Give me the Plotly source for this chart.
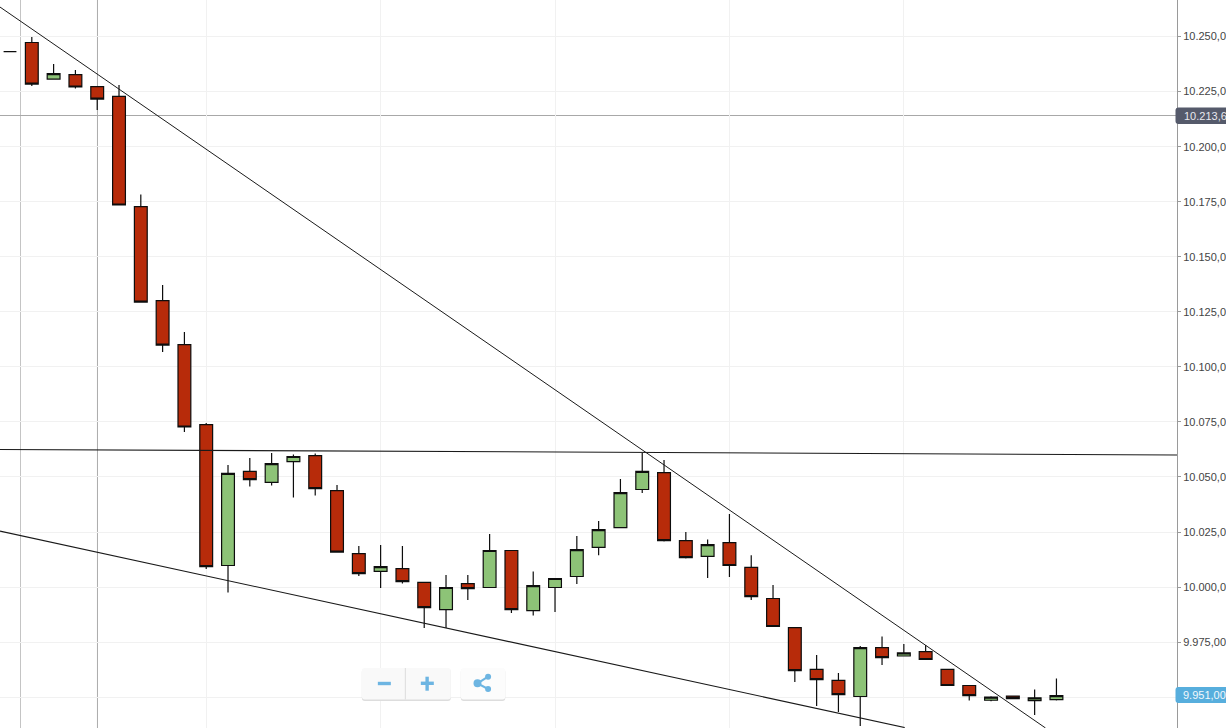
import plotly.graph_objects as go

candle_index = list(range(49))
open_values = [10243.2,10247.3,10230.7,10232.7,10227.3,10222.8,10172.8,10130.1,10110.1,10073.8,10009.8,10052.5,10047.5,10057.0,10059.7,10043.8,10015.2,10007.1,10008.4,10002.1,9989.8,10001.6,9999.8,10016.6,9989.3,9999.8,10004.8,10018.0,10027.0,10044.3,10052.0,10021.1,10013.9,10020.2,10008.9,9994.8,9981.6,9962.6,9957.6,9950.3,9972.5,9968.7,9970.7,9962.6,9955.3,9948.6,9950.5,9948.4,9948.9]
high_values = [10243.2,10249.8,10237.5,10234.8,10227.5,10228.0,10178.3,10137.2,10115.8,10074.5,10055.4,10058.6,10060.9,10060.2,10060.6,10046.3,10018.6,10019.1,10018.6,10002.3,10005.5,10005.5,10024.1,10016.8,10007.1,10004.0,10023.2,10030.0,10049.1,10060.9,10057.7,10025.0,10021.6,10033.2,10014.5,10000.9,9981.9,9969.1,9961.0,9973.2,9977.5,9974.1,9973.7,9962.8,9955.4,9950.4,9950.8,9953.5,9958.5]
low_values = [10243.2,10227.5,10230.5,10226.4,10216.6,10173.3,10129.2,10106.7,10070.4,10008.2,9997.5,10045.7,10046.1,10040.7,10041.6,10015.7,10005.0,9999.6,10001.6,9981.4,9981.4,9994.1,9999.6,9988.2,9987.1,9988.7,10001.4,10014.5,10026.8,10042.7,10020.7,10013.0,10004.1,10004.6,9994.1,9981.9,9956.9,9946.0,9943.3,9936.9,9964.6,9968.6,9967.0,9955.1,9948.5,9948.2,9949.1,9941.9,9948.5]
close_values = [10243.2,10228.4,10233.2,10227.1,10221.6,10173.5,10129.4,10109.9,10072.7,10009.3,10051.6,10048.8,10056.1,10059.3,10044.7,10015.9,10006.1,10009.3,10002.5,9990.7,9999.8,9999.3,10016.6,9989.8,10000.7,10003.9,10017.0,10026.1,10042.9,10052.5,10021.1,10013.4,10019.3,10009.8,9995.7,9982.1,9962.1,9958.0,9951.2,9972.5,9968.0,9970.1,9967.1,9955.3,9950.7,9950.0,9949.3,9949.7,9950.7]

upper_trend_x = [-0.459, 47.5]
upper_trend_y = [10263.4, 9936.0]
lower_trend_x = [-0.459, 41.04]
lower_trend_y = [10025.4, 9936.2]
flat_trend_x = [-0.459, 53.55]
flat_trend_y = [10062.5, 10060.0]
cursor_x = [0.481, 4.0115]
vertical_grid = [9, 17, 25, 33, 41]
price_line = 10214.15
price_label = "10.213,63"
last_label = "9.951,00"

W, H, PLOT_W = 1226, 728, 1177.5
def px(x): return x / PLOT_W
def py(y): return 1 - y / H

def rrect(x0, y0, x1, y1, r, fill, line=None):
    path = (f"M {px(x0+r)} {py(y0)} L {px(x1-r)} {py(y0)} Q {px(x1)} {py(y0)} {px(x1)} {py(y0+r)} "
            f"L {px(x1)} {py(y1-r)} Q {px(x1)} {py(y1)} {px(x1-r)} {py(y1)} L {px(x0+r)} {py(y1)} "
            f"Q {px(x0)} {py(y1)} {px(x0)} {py(y1-r)} L {px(x0)} {py(y0+r)} Q {px(x0)} {py(y0)} {px(x0+r)} {py(y0)} Z")
    return dict(type="path", path=path, xref="paper", yref="paper", fillcolor=fill, line=dict(width=0), layer="above")

def rect(x0, y0, x1, y1, fill):
    return dict(type="rect", xref="paper", yref="paper", x0=px(x0), x1=px(x1), y0=py(y0), y1=py(y1),
                fillcolor=fill, line=dict(width=0), layer="above")

def seg(x0, y0, x1, y1, color, w):
    return dict(type="line", xref="paper", yref="paper", x0=px(x0), x1=px(x1), y0=py(y0), y1=py(y1),
                line=dict(color=color, width=w), layer="above")

def dot(cx, cy, r, fill):
    return dict(type="circle", xref="paper", yref="paper", x0=px(cx-r), x1=px(cx+r), y0=py(cy-r), y1=py(cy+r),
                fillcolor=fill, line=dict(width=0), layer="above")

BLUE = "#6DB5E2"
shapes = [
    dict(type="line", xref="x", yref="paper", x0=cursor_x[0], x1=cursor_x[0], y0=0, y1=1,
         line=dict(color="#C4C4C4", width=1), layer="below"),
    dict(type="line", xref="x", yref="paper", x0=cursor_x[1], x1=cursor_x[1], y0=0, y1=1,
         line=dict(color="#ABABAB", width=1), layer="below"),
    dict(type="line", xref="paper", yref="y", x0=0, x1=1, y0=price_line, y1=price_line,
         line=dict(color="#A8A8A8", width=1), layer="below"),
    rrect(1176, 107.5, 1240, 124, 3, "#555A6B"),
    rrect(1176, 687, 1240, 703, 3, "#57AEDD"),
    rrect(362, 669, 451, 701, 3, "#DDDDDD"),
    rrect(362, 668, 451, 699.5, 3, "#F9F9F9"),
    seg(405.5, 668, 405.5, 699.5, "#DCDCDC", 1),
    rrect(461, 669, 505.5, 701, 3, "#DDDDDD"),
    rrect(461, 668, 505.5, 699.5, 3, "#FCFCFC"),
    rect(378, 681.8, 391, 685.2, BLUE),
    rect(421, 681.6, 434, 685.0, BLUE),
    rect(425.6, 676.7, 429.0, 690.7, BLUE),
    seg(477.7, 683.3, 488.3, 676.7, BLUE, 2),
    seg(477.7, 683.3, 488.3, 689, BLUE, 2),
    dot(488.3, 676.7, 3, BLUE),
    dot(488.3, 689, 3, BLUE),
    dot(477.7, 683.3, 4, BLUE),
]

fig = go.Figure()
for xs, ys, lw in [(upper_trend_x, upper_trend_y, 1), (lower_trend_x, lower_trend_y, 1.1), (flat_trend_x, flat_trend_y, 1.1)]:
    fig.add_trace(go.Scatter(x=xs, y=ys, mode="lines", line=dict(color="#1A1A1A", width=lw), hoverinfo="skip", showlegend=False))
fig.add_trace(go.Candlestick(
    x=candle_index, open=open_values, high=high_values, low=low_values, close=close_values,
    whiskerwidth=0, showlegend=False,
    increasing=dict(fillcolor="#8DC377", line=dict(color="#0D0D0D", width=1.2)),
    decreasing=dict(fillcolor="#B72B0A", line=dict(color="#0D0D0D", width=1.2)),
))

fig.update_layout(
    width=W, height=H, autosize=False,
    margin=dict(l=0, r=W - PLOT_W, t=0, b=0, pad=0),
    paper_bgcolor="white", plot_bgcolor="white", showlegend=False,
    separators=",.", boxgap=0.16,
    font=dict(family="Liberation Sans, Arial, sans-serif", size=11, color="#444444"),
    shapes=shapes,
    annotations=[
        dict(xref="paper", yref="y", x=px(1182.5), y=price_line, xanchor="left", yanchor="middle", text=price_label,
             showarrow=False, font=dict(color="#E8E8EE", size=11, family="Liberation Sans, Arial, sans-serif")),
        dict(xref="paper", yref="paper", x=px(1182), y=py(695), xanchor="left", yanchor="middle", text=last_label,
             showarrow=False, font=dict(color="#F2F8FC", size=11, family="Liberation Sans, Arial, sans-serif")),
    ],
    xaxis=dict(range=[-0.459, 53.53], tickmode="array", tickvals=vertical_grid, showticklabels=False, ticks="",
               showgrid=True, gridcolor="#F1F1F1", gridwidth=1, zeroline=False, showline=False, rangeslider=dict(visible=False)),
    yaxis=dict(side="right", range=[9936.0, 10266.6], tick0=0, dtick=25, tickformat=",.2f",
               showgrid=True, gridcolor="#F1F1F1", gridwidth=1, zeroline=False,
               showline=True, linecolor="#9A9A9A", linewidth=1, ticks="outside", ticklen=3, tickcolor="#9A9A9A",
               tickfont=dict(color="#444444", size=11), automargin=False),
)

fig.write_html("out.html", config=dict(displayModeBar=False),
               post_script="document.body.style.margin='0';document.body.style.overflow='hidden';")
